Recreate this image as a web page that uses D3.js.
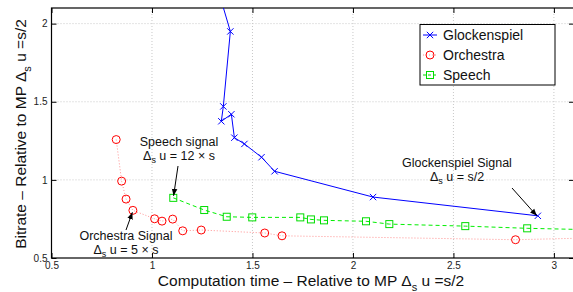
<!DOCTYPE html>
<html>
<head>
<meta charset="utf-8">
<script src="https://cdn.jsdelivr.net/npm/d3@7"></script>
<style>
  body { margin: 0; background: #fff; }
  svg { font-family: "Liberation Sans", Arial, sans-serif; }
  .grid line { stroke: #c8c8c8; stroke-dasharray: 1,2; }
  .tick text { font-size: 10px; fill: #222; }
</style>
</head>
<body>
<svg id="chart" width="573" height="292"></svg>
<script>
// Glockenspiel (blue, x markers, solid line) — first point sits above the visible range
const glockX = [1.31, 1.39, 1.355, 1.345, 1.395, 1.41, 1.46, 1.545, 1.61, 2.10, 2.92];
const glockY = [2.30, 1.95, 1.47, 1.375, 1.42, 1.27, 1.23, 1.145, 1.055, 0.89, 0.77];

// Orchestra (red circles, dotted line) — last point is past the right edge
const orchX = [0.822, 0.849, 0.871, 0.905, 1.013, 1.05, 1.103, 1.153, 1.245, 1.561, 1.647, 2.809, 3.40];
const orchY = [1.258, 0.992, 0.877, 0.805, 0.751, 0.736, 0.749, 0.674, 0.679, 0.660, 0.642, 0.617, 0.635];

// Speech (green squares, dashed line)
const speechX = [1.106, 1.26, 1.372, 1.499, 1.738, 1.791, 1.856, 2.065, 2.181, 2.559, 2.867, 3.40];
const speechY = [0.885, 0.807, 0.764, 0.760, 0.760, 0.747, 0.741, 0.735, 0.717, 0.704, 0.690, 0.675];

const xTicks = [0.5, 1, 1.5, 2, 2.5, 3];
const yTicks = [0.5, 1, 1.5, 2];

const svg = d3.select('#chart');
const box = { left: 51.5, right: 574, top: 8, bottom: 258 };

const x = d3.scaleLinear().domain([0.5, 3.1]).range([box.left, box.right]);
const y = d3.scaleLinear().domain([0.5, 2.1]).range([box.bottom, box.top]);

const defs = svg.append('defs');
defs.append('clipPath').attr('id', 'plot-clip')
    .append('rect')
    .attr('x', box.left).attr('y', box.top)
    .attr('width', box.right - box.left).attr('height', box.bottom - box.top);
defs.append('marker')
    .attr('id', 'arrow')
    .attr('viewBox', '0 0 10 10')
    .attr('refX', 10).attr('refY', 5)
    .attr('markerWidth', 7).attr('markerHeight', 7)
    .attr('markerUnits', 'userSpaceOnUse')
    .attr('orient', 'auto')
    .append('path')
    .attr('d', 'M0,1 L10,5 L0,9 Z')
    .attr('fill', '#000');

// grid
const grid = svg.append('g').attr('class', 'grid');
grid.selectAll('.gx').data(xTicks.slice(1)).enter().append('line')
    .attr('x1', d => x(d)).attr('x2', d => x(d))
    .attr('y1', box.top).attr('y2', box.bottom);
grid.selectAll('.gy').data(yTicks.slice(1)).enter().append('line')
    .attr('x1', box.left).attr('x2', box.right)
    .attr('y1', d => y(d)).attr('y2', d => y(d));

// axes (ticks pointing inward)
svg.append('g')
    .attr('transform', `translate(0,${box.bottom})`)
    .call(d3.axisBottom(x).tickValues(xTicks).tickFormat(d3.format('')).tickSizeInner(-5).tickSizeOuter(0).tickPadding(4))
    .call(g => g.select('.domain').remove());
svg.append('g')
    .attr('transform', `translate(${box.left},0)`)
    .call(d3.axisLeft(y).tickValues(yTicks).tickFormat(d3.format('')).tickSizeInner(-5).tickSizeOuter(0).tickPadding(4))
    .call(g => g.select('.domain').remove());
svg.append('g')
    .attr('transform', `translate(0,${box.top})`)
    .call(d3.axisTop(x).tickValues(xTicks).tickFormat('').tickSizeInner(-5).tickSizeOuter(0))
    .call(g => g.select('.domain').remove());
svg.append('g')
    .attr('transform', `translate(${box.right},0)`)
    .call(d3.axisRight(y).tickValues(yTicks).tickFormat('').tickSizeInner(-5).tickSizeOuter(0))
    .call(g => g.select('.domain').remove());

svg.selectAll('.tick line').attr('stroke', '#000');

svg.append('rect')
    .attr('x', box.left).attr('y', box.top)
    .attr('width', box.right - box.left).attr('height', box.bottom - box.top)
    .attr('fill', 'none').attr('stroke', '#000').attr('stroke-width', 1.2);

// series
const plot = svg.append('g').attr('clip-path', 'url(#plot-clip)');
const line = d3.line().x(d => x(d[0])).y(d => y(d[1]));

const glock = d3.zip(glockX, glockY);
const orch = d3.zip(orchX, orchY);
const speech = d3.zip(speechX, speechY);

plot.append('path').datum(orch).attr('d', line)
    .attr('fill', 'none').attr('stroke', '#ff9090').attr('stroke-width', 1)
    .attr('stroke-dasharray', '1,2');
plot.append('path').datum(speech).attr('d', line)
    .attr('fill', 'none').attr('stroke', '#00ee00').attr('stroke-width', 1)
    .attr('stroke-dasharray', '4,3');
plot.append('path').datum(glock).attr('d', line)
    .attr('fill', 'none').attr('stroke', '#0000ff').attr('stroke-width', 1);

plot.selectAll('.orch').data(orch).enter().append('circle')
    .attr('cx', d => x(d[0])).attr('cy', d => y(d[1])).attr('r', 4)
    .attr('fill', 'none').attr('stroke', '#ff0000').attr('stroke-width', 1);
plot.selectAll('.speech').data(speech).enter().append('rect')
    .attr('x', d => x(d[0]) - 3.5).attr('y', d => y(d[1]) - 3.5)
    .attr('width', 7).attr('height', 7)
    .attr('fill', 'none').attr('stroke', '#00dd00').attr('stroke-width', 1);
const cross = d3.symbol().type(d3.symbolX).size(28);
plot.selectAll('.glock').data(glock).enter().append('path')
    .attr('transform', d => `translate(${x(d[0])},${y(d[1])})`)
    .attr('d', cross)
    .attr('fill', 'none').attr('stroke', '#0000ff').attr('stroke-width', 1);

// annotations: text with Δ_s subscript
function deltaLine(g, cx, cy, rest) {
    const t = g.append('text').attr('x', cx).attr('y', cy)
        .attr('text-anchor', 'middle').attr('font-size', 12.5).attr('fill', '#111');
    t.append('tspan').text('Δ');
    t.append('tspan').attr('dy', 3).attr('font-size', 9).text('s');
    t.append('tspan').attr('dy', -3).text(' ' + rest);
}
function annotation(title, tx, ty, rest, from, to) {
    const g = svg.append('g');
    g.append('text').attr('x', tx).attr('y', ty).attr('text-anchor', 'middle')
        .attr('font-size', 12.5).attr('fill', '#111').text(title);
    deltaLine(g, tx, ty + 14, rest);
    g.append('line')
        .attr('x1', from[0]).attr('y1', from[1])
        .attr('x2', to[0]).attr('y2', to[1])
        .attr('stroke', '#000').attr('stroke-width', 1)
        .attr('marker-end', 'url(#arrow)');
}
annotation('Speech signal', 179, 146, 'u = 12 × s', [178, 166], [x(speechX[0]) + 0.3, y(speechY[0]) - 2]);
annotation('Orchestra Signal', 126, 240, 'u = 5 × s', [126, 230], [x(orchX[3]) - 0.5, y(orchY[3]) + 2]);
annotation('Glockenspiel Signal', 457, 166.5, 'u = s/2', [512, 188], [x(glockX[10]) - 1, y(glockY[10])]);

// axis labels
const xl = svg.append('text').attr('x', 311).attr('y', 285.5).attr('text-anchor', 'middle')
    .attr('font-size', 15.5).attr('fill', '#111');
xl.append('tspan').text('Computation time – Relative to MP Δ');
xl.append('tspan').attr('dy', 5).attr('font-size', 11).text('s');
xl.append('tspan').attr('dy', -5).text(' u =s/2');

const yl = svg.append('text').attr('transform', 'translate(26,134) rotate(-90)')
    .attr('text-anchor', 'middle').attr('font-size', 15.5).attr('fill', '#111');
yl.append('tspan').text('Bitrate – Relative to MP Δ');
yl.append('tspan').attr('dy', 5).attr('font-size', 11).text('s');
yl.append('tspan').attr('dy', -5).text(' u =s/2');

// legend
const legendItems = [
    { name: 'Glockenspiel', color: '#0000ff', dash: null, mark: 'x' },
    { name: 'Orchestra', color: '#ff0000', dash: '1,2', mark: 'o' },
    { name: 'Speech', color: '#00dd00', dash: '3,2', mark: 's' },
];
const lg = svg.append('g');
lg.append('rect').attr('x', 420).attr('y', 24.5).attr('width', 135).attr('height', 60.5)
    .attr('fill', '#fff').attr('stroke', '#000').attr('stroke-width', 1);
legendItems.forEach((it, i) => {
    const cy = 35 + i * 20;
    lg.append('line').attr('x1', 423).attr('x2', 437).attr('y1', cy).attr('y2', cy)
        .attr('stroke', it.mark === 'o' ? '#ff9090' : it.color)
        .attr('stroke-dasharray', it.dash);
    if (it.mark === 'x') {
        lg.append('path').attr('transform', `translate(430,${cy})`).attr('d', cross)
            .attr('fill', 'none').attr('stroke', it.color);
    } else if (it.mark === 'o') {
        lg.append('circle').attr('cx', 430).attr('cy', cy).attr('r', 4)
            .attr('fill', 'none').attr('stroke', it.color);
    } else {
        lg.append('rect').attr('x', 426.5).attr('y', cy - 3.5).attr('width', 7).attr('height', 7)
            .attr('fill', 'none').attr('stroke', it.color);
    }
    lg.append('text').attr('x', 443).attr('y', cy + 5).attr('font-size', 14)
        .attr('fill', '#111').text(it.name);
});
</script>
</body>
</html>
